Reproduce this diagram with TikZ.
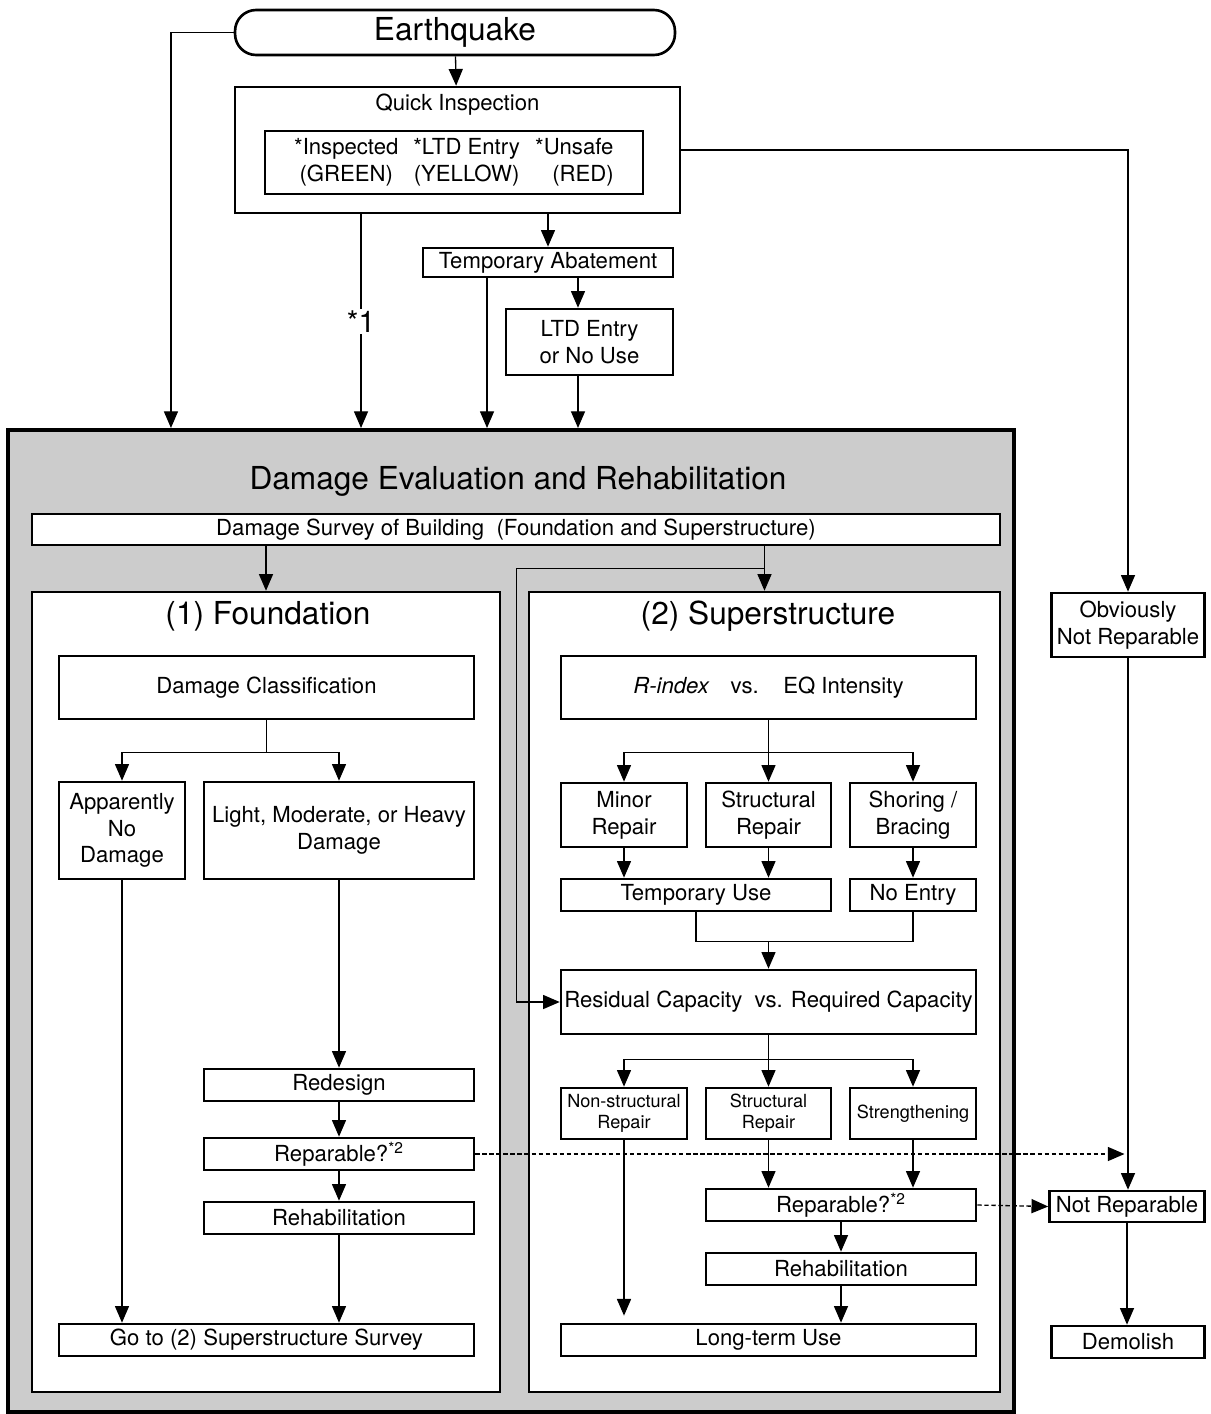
\documentclass[tikz,border=0pt]{standalone}
\usepackage{fontspec}
\setmainfont{TeX Gyre Heros}
\usetikzlibrary{arrows.meta,positioning,calc}
\tikzstyle{stage}=[
	rectangle,
	draw,
	line width=1.5pt,
	fill=white,
	inner sep=1pt,
	align=center,
	font=\fontsize{12.6}{15.2}\selectfont
]
\tikzstyle{smallstage}=[
	stage,
	font=\fontsize{10.3}{12}\selectfont
]
\tikzstyle{panel}=[
	rectangle,
	draw,
	line width=1.5pt,
	fill=white
]
\tikzstyle{frame}=[
	rectangle,
	draw,
	line width=2.4pt,
	fill=gray!40
]
\tikzstyle{headline}=[
	font=\fontsize{18}{21}\selectfont
]
\tikzstyle{link}=[
	line width=0.75pt
]
\tikzstyle{flow}=[
	->,
	>={Triangle[length=9.5pt,width=8pt]},
	line width=0.75pt
]
\tikzstyle{doubtful}=[
	flow,
	dash pattern=on 2.5pt off 1.5pt
]

\begin{document}
\begin{tikzpicture}[x=0.02cm,y=-0.02cm]
\useasboundingbox (0,0) rectangle (1211,1414);

% top of the chart
\node [stage, rounded corners=12pt, minimum width=8.8cm, minimum height=0.9cm,
	font=\fontsize{18}{21}\selectfont] (Earthquake) at (455,32.5) {Earthquake};
\node [stage, minimum width=8.9cm, minimum height=2.52cm] (QuickInspection) at (457.5,150) {};
\node [font=\fontsize{12.6}{15.2}\selectfont] (QuickLabel) at (457.5,105) {Quick Inspection};
\node [stage, minimum width=7.56cm, minimum height=1.26cm,
	font=\fontsize{12.6}{15.4}\selectfont] (Placard) at (454,162.5)
	{\begin{tabular}{@{}c@{\hspace{8.5pt}}c@{\hspace{8.5pt}}c@{}}
	*Inspected & *LTD Entry & *Unsafe\\
	(GREEN) & (YELLOW) & \hspace{10pt}(RED)
	\end{tabular}};
\node [stage, minimum width=5cm, minimum height=0.58cm] (Abatement) at (548,262.5) {Temporary Abatement};
\node [stage, minimum width=3.34cm, minimum height=1.32cm] (LtdEntry) at (589.5,342) {LTD Entry\\or No Use};

% damage evaluation frame
\node [frame, minimum width=20.12cm, minimum height=19.64cm] (Evaluation) at (511,921) {};
\node [headline] (EvalTitle) at (518,481) {Damage Evaluation and Rehabilitation};
\node [stage, minimum width=19.36cm, minimum height=0.62cm] (Survey) at (516,529.5)
	{Damage Survey of Building\ \ (Foundation and Superstructure)};
\node [panel, minimum width=9.36cm, minimum height=16cm] (Foundation) at (266,992) {};
\node [panel, minimum width=9.42cm, minimum height=16cm] (Superstructure) at (764.5,992) {};
\node [headline] (FoundTitle) at (268,616) {(1) Foundation};
\node [headline] (SuperTitle) at (768,616) {(2) Superstructure};

% (1) foundation
\node [stage, minimum width=8.3cm, minimum height=1.26cm] (DamageClass) at (266.5,687.5) {Damage Classification};
\node [stage, minimum width=2.52cm, minimum height=1.94cm] (NoDamage) at (122,830.5) {Apparently\\No\\Damage};
\node [stage, minimum width=5.4cm, minimum height=1.94cm] (SomeDamage) at (339,830.5) {Light, Moderate, or Heavy\\Damage};
\node [stage, minimum width=5.4cm, minimum height=0.64cm] (Redesign) at (339,1085) {Redesign};
\node [stage, minimum width=5.4cm, minimum height=0.64cm] (FoundReparable) at (339,1154) {Reparable?\textsuperscript{*2}};
\node [stage, minimum width=5.4cm, minimum height=0.64cm] (FoundRehab) at (339,1218) {Rehabilitation};
\node [stage, minimum width=8.3cm, minimum height=0.64cm] (GoSuper) at (266.5,1340) {Go to (2) Superstructure Survey};

% (2) superstructure
\node [stage, minimum width=8.3cm, minimum height=1.26cm] (RIndex) at (768.5,687.5)
	{\textit{R-index}\hspace{12pt}vs.\hspace{14pt}EQ Intensity};
\node [stage, minimum width=2.52cm, minimum height=1.28cm] (MinorRepair) at (624,815) {Minor\\Repair};
\node [stage, minimum width=2.5cm, minimum height=1.28cm] (StructRepair) at (768.5,815) {Structural\\Repair};
\node [stage, minimum width=2.52cm, minimum height=1.28cm] (Shoring) at (913,815) {Shoring /\\Bracing};
\node [stage, minimum width=5.4cm, minimum height=0.64cm] (TempUse) at (696,895) {Temporary Use};
\node [stage, minimum width=2.52cm, minimum height=0.64cm] (NoEntry) at (913,895) {No Entry};
\node [stage, minimum width=8.3cm, minimum height=1.28cm] (Residual) at (768.5,1002)
	{Residual Capacity\ \ vs. Required Capacity};
\node [smallstage, minimum width=2.52cm, minimum height=1.02cm] (NonStruct) at (624,1113.5) {Non-structural\\Repair};
\node [smallstage, minimum width=2.5cm, minimum height=1.02cm] (StructFix) at (768.5,1113.5) {Structural\\Repair};
\node [smallstage, minimum width=2.52cm, minimum height=1.02cm] (Strengthen) at (913,1113.5) {Strengthening};
\node [stage, minimum width=5.4cm, minimum height=0.64cm] (SuperReparable) at (841,1205) {Reparable?\textsuperscript{*2}};
\node [stage, minimum width=5.4cm, minimum height=0.64cm] (SuperRehab) at (841,1269) {Rehabilitation};
\node [stage, minimum width=8.3cm, minimum height=0.64cm] (LongTerm) at (768.5,1340) {Long-term Use};

% right column
\node [stage, minimum width=3.06cm, minimum height=1.28cm] (Obviously) at (1128,625) {Obviously\\Not Reparable};
\node [stage, minimum width=3.1cm, minimum height=0.62cm] (NotReparable) at (1127,1206.5) {Not Reparable};
\node [stage, minimum width=3.06cm, minimum height=0.64cm] (Demolish) at (1128,1342) {Demolish};

% connectors above the frame
\draw [flow] (Earthquake) -- (QuickInspection);
\draw [flow] (Earthquake.west) -| ([xshift=3.3cm]Evaluation.north west);
\draw [flow] ([xshift=-1.93cm]QuickInspection.south) -- node [fill=white, inner sep=1pt,
	font=\fontsize{17}{20}\selectfont] {*1} ([xshift=-1.93cm]QuickInspection.south |- Evaluation.north);
\draw [flow] (QuickInspection.south -| Abatement.north) -- (Abatement.north);
\draw [flow] ([xshift=-1.22cm]Abatement.south) -- ([xshift=-1.22cm]Abatement.south |- Evaluation.north);
\draw [flow] ([xshift=0.6cm]Abatement.south) -- ([xshift=0.6cm]Abatement.south |- LtdEntry.north);
\draw [flow] ([xshift=-0.23cm]LtdEntry.south) -- ([xshift=-0.23cm]LtdEntry.south |- Evaluation.north);
\draw [flow] (QuickInspection.east) -| (Obviously.north);

% connectors in the frame
\draw [flow] (Survey.south -| Foundation.north) -- (Foundation.north);
\draw [flow] (Survey.south -| Superstructure.north) -- (Superstructure.north);
\coordinate (Split) at ($(Survey.south -| Superstructure.north)!0.5!(Superstructure.north)$);
\draw [flow] (Split) -- ([xshift=-0.22cm]Superstructure.west |- Split) |- (Residual.west);

\draw [flow] (DamageClass.south) -- ++(0,32) -| (NoDamage.north);
\draw [flow] (DamageClass.south) -- ++(0,32) -| (SomeDamage.north);
\draw [flow] (NoDamage.south) -- (NoDamage.south |- GoSuper.north);
\draw [flow] (SomeDamage.south) -- (Redesign.north);
\draw [flow] (Redesign) -- (FoundReparable);
\draw [flow] (FoundReparable) -- (FoundRehab);
\draw [flow] (FoundRehab.south) -- (FoundRehab.south |- GoSuper.north);

\draw [flow] (RIndex.south) -- ++(0,32) -| (MinorRepair.north);
\draw [flow] (RIndex.south) -- (StructRepair.north);
\draw [flow] (RIndex.south) -- ++(0,32) -| (Shoring.north);
\draw [flow] (MinorRepair.south) -- (MinorRepair.south |- TempUse.north);
\draw [flow] (StructRepair.south) -- (StructRepair.south |- TempUse.north);
\draw [flow] (Shoring) -- (NoEntry);
\draw [link] (TempUse.south) -- ++(0,29) coordinate (Join) -| (NoEntry.south);
\draw [flow] (Join -| Residual.north) -- (Residual.north);

\draw [flow] (Residual.south) -- ++(0,24) -| (NonStruct.north);
\draw [flow] (Residual.south) -- (StructFix.north);
\draw [flow] (Residual.south) -- ++(0,24) -| (Strengthen.north);
\draw [flow, shorten >=4pt] (NonStruct.south) -- (NonStruct.south |- LongTerm.north);
\draw [flow] (StructFix.south) -- (StructFix.south |- SuperReparable.north);
\draw [flow] (Strengthen.south) -- (Strengthen.south |- SuperReparable.north);
\draw [flow] (SuperReparable.south) -- (SuperReparable.south |- SuperRehab.north);
\draw [flow] (SuperRehab.south) -- (SuperRehab.south |- LongTerm.north);

% not reparable
\draw [doubtful, shorten >=2pt] (FoundReparable.east) -- (FoundReparable.east -| Obviously.south);
\draw [doubtful] (SuperReparable.east) -- (NotReparable.west);
\draw [flow] (Obviously.south) -- (Obviously.south |- NotReparable.north);
\draw [flow] (NotReparable.south) -- (NotReparable.south |- Demolish.north);
\end{tikzpicture}
\end{document}
